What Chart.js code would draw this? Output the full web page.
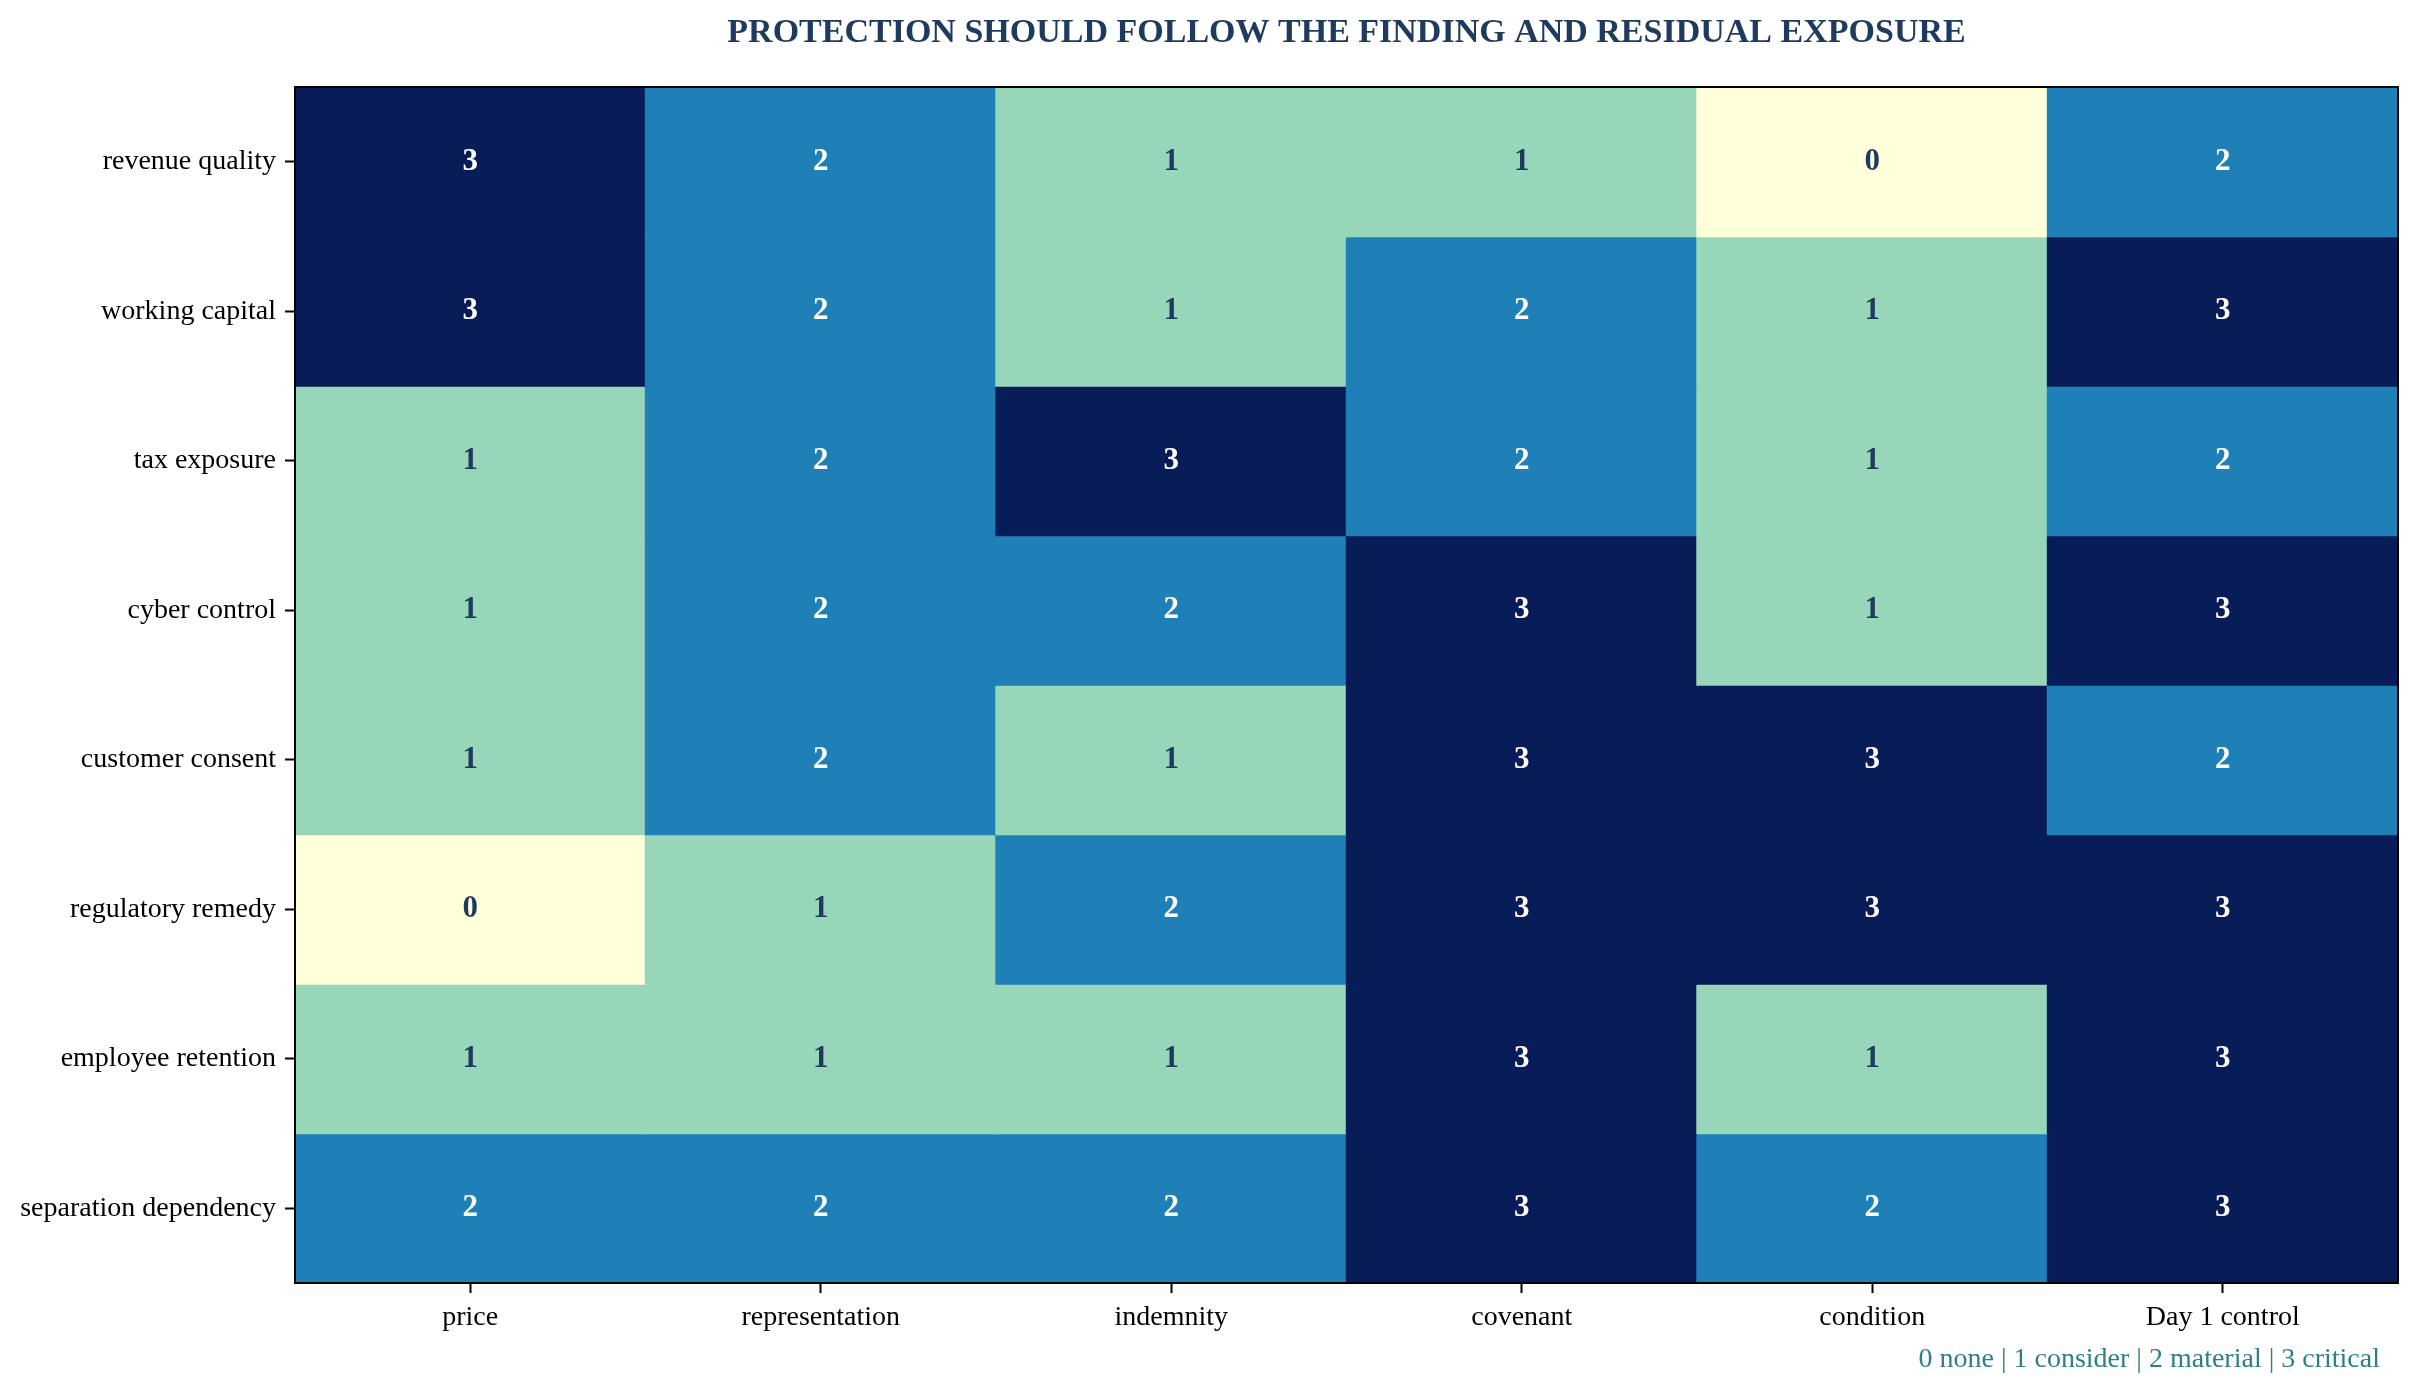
<!DOCTYPE html>
<html>
<head>
<meta charset="utf-8">
<title>Protection heatmap</title>
<script src="https://cdn.jsdelivr.net/npm/chart.js@4.4.1/dist/chart.umd.min.js"></script>
<style>
    html, body { margin: 0; padding: 0; background: #ffffff; }
    canvas { display: block; }
</style>
</head>
<body>
<canvas id="heatmap" width="2420" height="1393"></canvas>
<script>
// ============================================
// Protection vs finding heatmap
// ============================================

const columns = ['price', 'representation', 'indemnity', 'covenant', 'condition', 'Day 1 control'];
const rows = ['revenue quality', 'working capital', 'tax exposure', 'cyber control',
              'customer consent', 'regulatory remedy', 'employee retention', 'separation dependency'];

// one array per finding, in column order
const revenueQuality       = [3, 2, 1, 1, 0, 2];
const workingCapital       = [3, 2, 1, 2, 1, 3];
const taxExposure          = [1, 2, 3, 2, 1, 2];
const cyberControl         = [1, 2, 2, 3, 1, 3];
const customerConsent      = [1, 2, 1, 3, 3, 2];
const regulatoryRemedy     = [0, 1, 2, 3, 3, 3];
const employeeRetention    = [1, 1, 1, 3, 1, 3];
const separationDependency = [2, 2, 2, 3, 2, 3];

const scores = [revenueQuality, workingCapital, taxExposure, cyberControl,
                customerConsent, regulatoryRemedy, employeeRetention, separationDependency];

const titleText = 'PROTECTION SHOULD FOLLOW THE FINDING AND RESIDUAL EXPOSURE';
const noteText = '0 none | 1 consider | 2 material | 3 critical';

// YlGnBu sampled at 4 levels
const levelColors = ['#ffffd9', '#97d6b9', '#1f80b8', '#081d58'];
const SERIF = '"Liberation Serif", "Times New Roman", serif';
const NAVY = '#1f3a5f';

Chart.defaults.font.family = SERIF;
Chart.defaults.color = '#000000';

/**
 * Cell values, title, note and frame
 */
const heatmapDecor = {
    id: 'heatmapDecor',
    afterDatasetsDraw(chart) {
        const ctx = chart.ctx;
        ctx.save();
        ctx.font = 'bold 31px ' + SERIF;
        ctx.textAlign = 'center';
        ctx.textBaseline = 'middle';
        chart.data.datasets.forEach((ds, i) => {
            const meta = chart.getDatasetMeta(i);
            meta.data.forEach((bar, j) => {
                const p = bar.getProps(['x', 'y', 'base'], true);
                const v = scores[i][j];
                ctx.fillStyle = v >= 2 ? '#ffffff' : NAVY;
                ctx.fillText(String(v), p.x, (p.y + p.base) / 2);
            });
        });
        ctx.restore();
    },
    afterDraw(chart) {
        const ctx = chart.ctx;
        const area = chart.chartArea;
        ctx.save();
        // frame
        ctx.strokeStyle = '#000000';
        ctx.lineWidth = 2;
        ctx.strokeRect(area.left, area.top, area.right - area.left, area.bottom - area.top);
        // title
        ctx.fillStyle = NAVY;
        ctx.font = 'bold 34px ' + SERIF;
        ctx.textAlign = 'center';
        ctx.textBaseline = 'middle';
        ctx.fillText(titleText, (area.left + area.right) / 2, 33);
        // scale note
        ctx.fillStyle = '#2f7f86';
        ctx.font = '28px ' + SERIF;
        ctx.textAlign = 'right';
        ctx.fillText(noteText, 2380, 1360);
        ctx.restore();
    }
};

const datasets = scores.map((rowValues, i) => ({
    label: rows[i],
    data: rowValues.map(() => [i, i + 1]),
    backgroundColor: rowValues.map(v => levelColors[v]),
    borderWidth: 0,
    inflateAmount: 0.7,
    barPercentage: 1,
    categoryPercentage: 1,
    grouped: false
}));

new Chart(document.getElementById('heatmap'), {
    type: 'bar',
    data: { labels: columns, datasets: datasets },
    options: {
        responsive: false,
        devicePixelRatio: 1,
        animation: false,
        layout: { padding: { top: 87, right: 22, bottom: 0, left: 0 } },
        plugins: {
            legend: { display: false },
            tooltip: { enabled: false },
            title: { display: false }
        },
        scales: {
            x: {
                type: 'category',
                offset: true,
                border: { display: false },
                grid: {
                    offset: false,
                    drawOnChartArea: false,
                    drawTicks: true,
                    tickLength: 10,
                    tickWidth: 2,
                    tickColor: '#000000'
                },
                ticks: {
                    color: '#000000',
                    font: { size: 28 },
                    padding: 8,
                    maxRotation: 0,
                    autoSkip: false
                },
                afterFit(scale) { scale.height = 110; }
            },
            y: {
                type: 'linear',
                min: 0,
                max: rows.length,
                reverse: true,
                border: { display: false },
                grid: {
                    drawOnChartArea: false,
                    drawTicks: true,
                    tickLength: 10,
                    tickWidth: 2,
                    tickColor: '#000000'
                },
                ticks: {
                    color: '#000000',
                    font: { size: 28 },
                    padding: 9,
                    autoSkip: false,
                    callback: (value, index) => rows[index]
                },
                afterBuildTicks(scale) {
                    scale.ticks = rows.map((r, i) => ({ value: i + 0.5 }));
                },
                afterFit(scale) { scale.width = 295; }
            }
        }
    },
    plugins: [heatmapDecor]
});
</script>
</body>
</html>
